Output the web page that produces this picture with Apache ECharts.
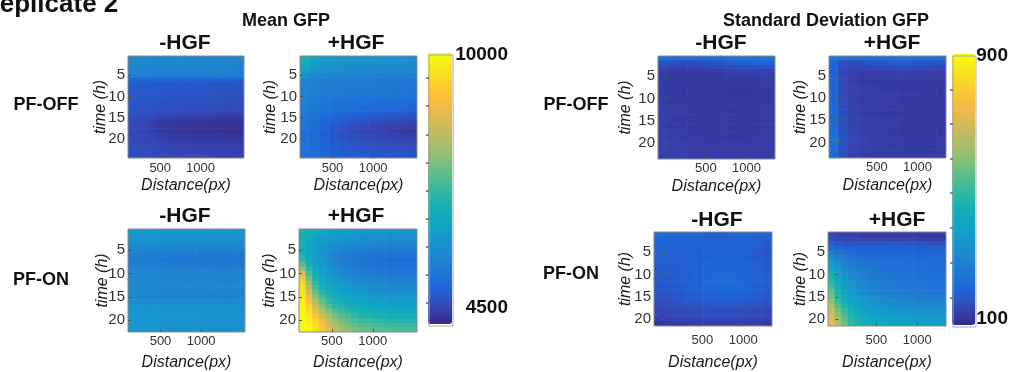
<!DOCTYPE html>
<html>
<head>
<meta charset="utf-8">
<script src="https://cdn.jsdelivr.net/npm/echarts@6/dist/echarts.min.js"></script>
<style>
  html, body { margin: 0; padding: 0; background: #fff; }
  #chart { width: 1013px; height: 372px; }
</style>
</head>
<body>
<div id="chart"></div>
<script>
// ---- Axis data -------------------------------------------------------------
// Distance bin centres (px); the +HGF / PF-ON maps use the finer binning.
const meanDistance = [160, 280, 400, 520, 640, 760, 880, 1000, 1120, 1240, 1360, 1480];
const meanDistanceFine = [140, 220, 300, 380, 460, 540, 620, 700, 780, 860, 940, 1020, 1100, 1180, 1260, 1340, 1420, 1500];
const sdDistance = [-30, 90, 210, 330, 450, 570, 690, 810, 930, 1050, 1170, 1290];
const sdDistanceFine = [-50, 30, 110, 190, 270, 350, 430, 510, 590, 670, 750, 830, 910, 990, 1070, 1150, 1230, 1310];
const timeTicks = [5, 10, 15, 20];
const distanceTicks = [500, 1000];
const meanRange = [4500, 10000];
const sdRange = [100, 900];
const meanBarTicks = [4970, 5540, 6110, 6680, 7250, 7820, 8390, 8960, 9530];
const sdBarTicks = [186, 289, 392, 495, 598, 700, 800];

// ---- Mean GFP (rows = time in h, columns = distance bins) -------------------
const meanOffMinus = [
  [5960,5940,5920,5920,5900,5890,5880,5870,5860,5850,5840,5830],
  [5940,5920,5900,5890,5880,5870,5860,5850,5840,5830,5820,5810],
  [5920,5900,5880,5870,5860,5850,5840,5830,5820,5810,5800,5790],
  [5880,5860,5840,5830,5820,5810,5800,5790,5780,5770,5760,5750],
  [5780,5760,5740,5730,5720,5710,5700,5690,5680,5670,5660,5650],
  [5300,5280,5260,5250,5240,5230,5220,5210,5200,5190,5180,5180],
  [5120,5100,5090,5080,5070,5060,5050,5050,5040,5030,5020,5020],
  [5100,5080,5070,5060,5050,5040,5030,5020,5020,5010,5000,5000],
  [5090,5070,5060,5050,5040,5030,5020,5010,5000,4990,4980,4980],
  [5080,5060,5050,5040,5030,5020,5010,5000,4990,4980,4970,4960],
  [5060,5040,5020,5010,5000,4990,4980,4970,4960,4950,4940,4930],
  [5040,5020,5000,4990,4980,4970,4960,4950,4940,4930,4920,4910],
  [5020,5000,4980,4960,4950,4940,4920,4910,4900,4890,4880,4870],
  [5000,4980,4950,4920,4900,4880,4860,4850,4840,4830,4820,4810],
  [4950,4900,4850,4800,4770,4750,4740,4730,4720,4710,4700,4700],
  [4920,4860,4790,4720,4690,4670,4660,4650,4640,4630,4620,4610],
  [4900,4840,4770,4700,4670,4650,4640,4630,4620,4610,4600,4590],
  [4890,4830,4770,4710,4680,4660,4650,4640,4630,4620,4610,4600],
  [4890,4840,4790,4740,4710,4690,4680,4670,4660,4650,4640,4630],
  [4900,4860,4810,4770,4750,4730,4720,4710,4700,4690,4680,4670],
  [4920,4880,4840,4800,4780,4770,4760,4750,4740,4730,4720,4710],
  [4930,4900,4860,4830,4810,4800,4790,4780,4770,4760,4750,4740],
  [4950,4920,4890,4860,4840,4830,4820,4810,4800,4790,4780,4770],
  [4970,4940,4910,4880,4870,4860,4850,4840,4830,4820,4810,4800]
];
const meanOffPlus = [
  [6900,6550,6300,6200,6150,6120,6100,6090,6080,6070,6060,6050],
  [6800,6450,6250,6160,6120,6090,6070,6060,6050,6040,6030,6020],
  [6600,6350,6180,6100,6060,6030,6010,6000,5990,5980,5970,5960],
  [6400,6200,6080,6010,5970,5950,5930,5920,5910,5900,5890,5880],
  [6150,6050,5960,5900,5870,5850,5830,5820,5810,5800,5790,5780],
  [5900,5820,5750,5710,5680,5660,5650,5640,5630,5620,5610,5600],
  [5850,5770,5700,5660,5630,5610,5600,5590,5580,5570,5560,5550],
  [5830,5750,5680,5640,5610,5590,5570,5560,5550,5540,5530,5520],
  [5800,5720,5650,5610,5580,5560,5540,5530,5510,5500,5490,5480],
  [5770,5690,5620,5570,5540,5520,5500,5480,5470,5460,5450,5440],
  [5740,5650,5570,5520,5490,5460,5440,5420,5410,5400,5390,5380],
  [5700,5600,5520,5460,5420,5390,5370,5350,5340,5330,5320,5310],
  [5650,5550,5460,5400,5350,5320,5290,5270,5250,5230,5210,5200],
  [5600,5490,5390,5320,5270,5230,5200,5170,5150,5120,5100,5080],
  [5550,5430,5320,5240,5180,5130,5090,5060,5030,5000,4970,4950],
  [5500,5370,5250,5160,5090,5030,4980,4940,4900,4870,4840,4820],
  [5460,5320,5190,5090,5010,4950,4900,4860,4820,4780,4750,4730],
  [5430,5290,5160,5060,4980,4920,4870,4830,4790,4750,4720,4700],
  [5420,5280,5160,5060,4990,4930,4890,4850,4810,4780,4750,4740],
  [5420,5290,5170,5080,5010,4960,4920,4890,4860,4830,4810,4800],
  [5430,5300,5190,5110,5050,5000,4960,4930,4910,4890,4870,4860],
  [5450,5330,5220,5140,5080,5040,5010,4980,4960,4940,4920,4910],
  [5470,5350,5250,5170,5120,5080,5050,5030,5010,4990,4980,4970],
  [5490,5380,5280,5200,5150,5110,5090,5070,5050,5040,5030,5020]
];
const meanOnMinus = [
  [6250,6230,6200,6180,6170,6160,6150,6150,6140,6140,6130,6130],
  [6200,6180,6160,6140,6130,6120,6110,6110,6100,6100,6090,6090],
  [6150,6130,6110,6090,6080,6070,6060,6050,6050,6040,6040,6030],
  [6000,5980,5960,5940,5930,5920,5910,5900,5890,5880,5870,5870],
  [5900,5880,5860,5840,5820,5810,5800,5790,5780,5770,5760,5760],
  [5720,5700,5670,5650,5630,5620,5610,5600,5590,5580,5570,5560],
  [5650,5630,5600,5580,5560,5550,5540,5530,5520,5510,5500,5490],
  [5700,5680,5650,5630,5610,5600,5590,5580,5570,5560,5550,5550],
  [5850,5830,5800,5780,5760,5750,5740,5730,5720,5710,5700,5700],
  [5920,5900,5880,5860,5840,5830,5820,5810,5800,5790,5780,5780],
  [5950,5930,5910,5890,5880,5870,5860,5850,5840,5830,5820,5820],
  [5980,5960,5940,5920,5910,5900,5890,5880,5870,5860,5850,5850],
  [6000,5980,5960,5940,5930,5920,5910,5900,5890,5880,5870,5870],
  [5950,5930,5910,5890,5880,5870,5860,5850,5840,5830,5820,5820],
  [5900,5880,5860,5840,5830,5820,5810,5800,5790,5780,5770,5770],
  [6050,6030,6010,5990,5980,5970,5960,5950,5940,5930,5920,5920],
  [6150,6130,6110,6090,6080,6070,6060,6050,6040,6030,6020,6020],
  [6200,6180,6160,6140,6130,6120,6110,6100,6090,6080,6070,6070],
  [6220,6200,6180,6160,6150,6140,6130,6120,6110,6100,6090,6090],
  [6200,6180,6160,6140,6130,6120,6110,6100,6090,6080,6070,6070],
  [6180,6160,6140,6120,6110,6100,6090,6080,6070,6060,6050,6050],
  [6150,6130,6110,6090,6080,6070,6060,6050,6040,6030,6020,6020]
];
const meanOnPlus = [
  [6980,6810,6650,6540,6430,6370,6320,6320,6260,6260,6210,6210,6210,6210,6150,6150,6150,6150],
  [6870,6700,6540,6430,6320,6260,6210,6210,6150,6150,6150,6100,6100,6100,6100,6040,6040,6040],
  [6810,6590,6430,6320,6210,6150,6100,6040,6040,5990,5990,5990,5990,5990,5930,5930,5930,5930],
  [6810,6540,6370,6210,6100,6040,5990,5930,5880,5880,5820,5820,5820,5820,5770,5770,5770,5770],
  [6870,6540,6320,6150,6040,5930,5820,5770,5710,5710,5660,5660,5600,5600,5600,5600,5600,5600],
  [6980,6590,6320,6100,5930,5820,5710,5660,5600,5550,5490,5490,5440,5440,5440,5440,5440,5440],
  [7140,6700,6370,6150,5990,5820,5710,5600,5550,5490,5440,5380,5380,5330,5330,5330,5330,5330],
  [7470,6870,6480,6210,6040,5880,5770,5660,5600,5550,5490,5440,5440,5380,5380,5380,5380,5380],
  [7970,7090,6590,6320,6150,5990,5880,5770,5660,5600,5550,5550,5490,5490,5490,5490,5490,5490],
  [8570,7360,6760,6480,6260,6100,5990,5880,5770,5710,5660,5660,5600,5600,5600,5600,5600,5600],
  [9120,7640,6920,6590,6370,6210,6100,5990,5880,5820,5770,5770,5710,5710,5710,5710,5710,5710],
  [9450,7970,7140,6760,6540,6370,6260,6150,6040,5990,5930,5880,5880,5820,5820,5820,5820,5820],
  [9620,8300,7360,6920,6650,6480,6370,6260,6150,6100,6040,5990,5990,5930,5930,5930,5930,5930],
  [9730,8630,7640,7140,6810,6650,6480,6370,6260,6210,6150,6100,6100,6040,6040,6040,6040,6040],
  [9780,8900,7910,7360,7030,6810,6650,6540,6430,6370,6320,6260,6210,6210,6210,6210,6210,6210],
  [9840,9120,8190,7580,7200,6980,6810,6650,6540,6480,6430,6370,6370,6320,6320,6320,6320,6320],
  [9890,9340,8520,7860,7420,7140,6980,6810,6700,6650,6590,6540,6480,6480,6480,6430,6430,6430],
  [9950,9560,8900,8240,7800,7470,7250,7090,6980,6870,6810,6760,6700,6700,6650,6650,6590,6590],
  [9950,9730,9180,8520,8080,7690,7470,7310,7140,7030,6980,6920,6870,6870,6810,6810,6760,6760],
  [10000,9840,9400,8850,8350,7970,7690,7530,7360,7250,7200,7140,7090,7030,7030,6980,6980,6980],
  [10000,9890,9560,9070,8570,8190,7910,7750,7580,7470,7420,7360,7310,7250,7250,7200,7200,7200],
  [10000,9890,9560,9180,8740,8350,8080,7910,7750,7640,7580,7530,7470,7420,7420,7360,7360,7360]
];

// ---- Standard deviation GFP -----------------------------------------------
const sdOffMinus = [
  [230,228,226,226,226,228,230,232,234,236,238,240],
  [180,170,164,164,168,172,180,188,196,200,204,206],
  [150,144,140,140,144,148,154,160,164,168,170,170],
  [140,134,130,130,132,134,136,138,140,142,142,142],
  [136,132,128,128,130,130,132,134,136,136,136,136],
  [134,130,128,126,128,128,130,130,132,132,132,134],
  [134,130,126,126,126,128,128,130,128,128,130,132],
  [132,130,128,128,128,128,126,126,124,126,128,130],
  [134,130,128,128,126,126,126,124,124,126,128,130],
  [134,132,130,128,128,128,130,130,128,128,130,130],
  [136,132,130,128,128,128,128,128,128,128,128,130],
  [136,132,130,130,130,128,128,128,128,128,130,132],
  [136,134,132,130,130,130,130,130,130,130,130,132],
  [138,134,132,132,132,132,132,132,132,132,132,132],
  [136,132,130,130,130,130,130,130,130,130,130,130],
  [136,132,130,130,130,130,130,130,130,130,132,132],
  [138,134,132,130,130,130,130,130,130,130,130,130],
  [140,136,134,132,130,130,130,130,130,130,132,132],
  [142,138,134,132,132,132,130,130,130,132,132,132],
  [142,138,136,134,132,132,132,132,132,132,132,132],
  [144,140,136,134,134,132,132,132,132,132,134,134],
  [144,140,138,136,134,134,134,134,134,134,134,134],
  [146,142,138,136,136,136,136,136,136,136,136,136]
];
const sdOffPlus = [
  [240,236,234,232,232,234,236,238,236,234,232,230],
  [210,170,164,168,176,182,186,188,186,182,176,170],
  [200,160,150,150,154,158,162,164,162,158,154,150],
  [196,150,138,136,138,140,142,142,142,140,138,136],
  [200,148,136,132,132,134,134,134,134,132,132,132],
  [204,150,136,130,130,130,132,132,132,130,130,130],
  [206,152,140,136,134,130,128,128,128,128,128,128],
  [208,154,142,140,136,132,130,130,128,128,128,128],
  [210,156,142,138,138,140,140,140,138,134,130,128],
  [210,156,140,134,134,134,132,130,130,128,128,128],
  [212,156,140,134,132,132,132,130,130,130,128,128],
  [214,158,140,134,132,132,132,132,130,130,128,128],
  [216,158,140,134,132,130,130,130,130,130,128,128],
  [218,160,140,134,132,130,130,130,130,128,128,128],
  [220,162,142,136,134,134,134,132,130,128,128,128],
  [222,162,142,138,138,136,134,132,130,130,128,128],
  [224,164,144,138,136,134,132,130,130,128,128,128],
  [230,168,146,140,136,134,132,130,130,128,128,128],
  [236,170,148,140,136,134,132,130,130,130,128,128],
  [234,170,148,140,136,134,132,132,130,130,130,130],
  [228,166,146,138,136,134,132,132,130,130,130,130],
  [222,164,144,138,136,134,134,132,132,130,130,130],
  [216,160,142,136,134,134,134,132,132,132,132,132]
];
const sdOnMinus = [
  [224,214,206,202,200,198,198,198,200,202,202,200],
  [210,204,200,198,196,196,196,196,198,198,196,194],
  [202,198,196,194,194,194,194,196,196,196,192,186],
  [198,196,194,194,194,194,196,196,196,194,188,180],
  [194,194,192,194,194,196,196,198,196,192,186,178],
  [192,192,192,194,194,196,198,200,198,194,186,180],
  [190,190,192,194,196,198,200,202,200,196,188,182],
  [188,190,192,194,196,200,204,206,202,198,190,184],
  [186,188,190,194,198,202,208,210,206,200,192,186],
  [184,186,190,194,200,206,212,214,210,202,194,188],
  [182,184,188,194,200,208,214,216,212,204,196,190],
  [180,182,188,194,200,208,214,216,212,204,196,190],
  [178,180,186,192,198,204,210,212,208,202,194,188],
  [174,178,184,190,196,202,206,208,204,198,192,186],
  [170,174,180,186,192,196,200,200,198,192,186,180],
  [164,170,176,182,186,190,192,192,190,186,180,174],
  [158,164,170,174,178,180,182,182,180,176,172,166],
  [146,150,154,156,158,160,160,160,158,156,152,148],
  [150,154,158,162,164,166,168,168,166,162,158,154],
  [134,138,142,144,146,148,150,150,148,146,142,138],
  [126,130,134,136,138,140,142,142,140,138,136,132]
];
const sdOnPlus = [
  [148,140,140,140,140,132,132,132,132,132,132,132,132,132,132,132,132,132],
  [164,148,148,148,148,140,140,140,140,140,140,140,140,140,132,132,132,132],
  [196,180,172,172,172,172,172,180,180,180,180,180,172,172,172,164,164,164],
  [228,204,196,196,196,196,196,196,196,196,196,196,196,196,188,188,188,188],
  [276,244,228,220,212,212,212,212,212,212,212,212,212,204,204,204,204,204],
  [316,276,252,236,228,220,220,220,220,220,220,220,220,212,212,212,212,212],
  [348,308,276,252,244,236,228,228,228,228,228,220,220,220,220,212,212,212],
  [380,332,292,268,252,244,236,236,228,228,228,228,228,220,220,220,220,220],
  [412,356,316,284,268,260,252,244,236,236,236,228,228,228,228,220,220,220],
  [444,380,332,308,284,276,260,252,244,244,236,236,236,228,228,228,228,228],
  [468,396,348,324,300,284,268,260,252,252,244,244,236,236,236,228,228,228],
  [492,420,364,340,316,300,284,268,260,260,252,252,244,244,244,236,236,236],
  [516,436,380,348,324,308,292,284,276,268,260,260,252,252,252,244,244,244],
  [548,460,396,364,340,324,308,292,284,276,268,268,260,260,260,252,252,252],
  [580,476,420,380,356,340,324,308,300,292,284,276,276,268,268,268,268,268],
  [604,500,436,396,372,356,340,324,316,308,300,292,292,284,284,284,284,284],
  [636,532,460,420,388,372,356,340,332,324,316,316,308,308,308,308,308,308],
  [668,564,492,444,412,388,372,364,356,348,340,340,332,332,332,332,332,332],
  [692,596,516,460,428,404,388,380,372,364,364,356,356,348,348,348,348,348],
  [716,620,540,476,444,420,404,396,388,380,372,372,364,364,364,364,364,364],
  [732,636,556,492,460,436,420,404,396,388,380,380,372,372,372,372,372,372]
];

// Parula-style colour ramp (slightly softened blues)
const parula = ['#352a87','#3545b5','#1e64d6','#1e76d4','#1f86d0','#1497cc','#0fa6c3','#19b0b2',
  '#38b99e','#65be86','#92bf73','#b7bd64','#d9ba56','#f8bb44','#fcce2e','#f5e41d','#f9fb0e'];

// ---- Layout ----------------------------------------------------------------
const FONT = '"Liberation Sans", Arial, Helvetica, sans-serif';
const panels = [
  { rows: meanOffMinus, dist: meanDistance,     box: [128, 56, 116, 102], xLabelGap: 4, xNameGap: 20, yNameGap: 19 },
  { rows: meanOffPlus,  dist: meanDistance,     box: [300, 56, 117, 102], xLabelGap: 4, xNameGap: 20, yNameGap: 21 },
  { rows: meanOnMinus,  dist: meanDistance,     box: [128, 229, 117, 103], xLabelGap: 3, xNameGap: 23, yNameGap: 17 },
  { rows: meanOnPlus,   dist: meanDistanceFine, box: [299, 229, 118, 103], xLabelGap: 3, xNameGap: 23, yNameGap: 21 },
  { rows: sdOffMinus,   dist: sdDistance,       box: [658, 56, 117, 103], xLabelGap: 3, xNameGap: 20, yNameGap: 24 },
  { rows: sdOffPlus,    dist: sdDistance,       box: [829, 56, 117, 102], xLabelGap: 3, xNameGap: 20, yNameGap: 20 },
  { rows: sdOnMinus,    dist: sdDistance,       box: [654, 232, 118, 94], xLabelGap: 8, xNameGap: 29, yNameGap: 20 },
  { rows: sdOnPlus,     dist: sdDistanceFine,   box: [828, 232, 118, 94], xLabelGap: 8, xNameGap: 29, yNameGap: 19 }
];
const colorBars = [
  { box: [429, 55, 24, 271], range: meanRange, ticks: meanBarTicks },
  { box: [953, 56, 23, 271], range: sdRange, ticks: sdBarTicks }
];
// The continuous visualMap draws its bar inset from the component origin.
const barInset = [16, 17];

const grids = [], xAxes = [], yAxes = [], series = [];
const nameStyle = { fontFamily: FONT, fontStyle: 'italic', fontSize: 16, color: '#1a1a1a' };

panels.forEach((p, i) => {
  const bin = p.dist[1] - p.dist[0];
  grids.push({ left: p.box[0], top: p.box[1], width: p.box[2], height: p.box[3],
    show: true, borderColor: '#8a8a8a', borderWidth: 1, backgroundColor: 'transparent', z: 10 });
  xAxes.push({
    gridIndex: i, type: 'value', z: 10,
    min: p.dist[0] - bin / 2, max: p.dist[p.dist.length - 1] + bin / 2,
    name: 'Distance(px)', nameLocation: 'middle', nameGap: p.xNameGap, nameMoveOverlap: false,
    nameTextStyle: nameStyle,
    axisLine: { show: false }, splitLine: { show: false },
    axisTick: { show: true, inside: true, length: 3, customValues: distanceTicks, lineStyle: { color: '#555' } },
    axisLabel: { customValues: distanceTicks, margin: p.xLabelGap, fontFamily: FONT, fontSize: 13, color: '#333',
      formatter: v => String(v) }
  });
  yAxes.push({
    gridIndex: i, type: 'value', inverse: true, z: 10,
    min: 0.5, max: p.rows.length + 0.5,
    name: 'time (h)', nameLocation: 'middle', nameGap: p.yNameGap, nameRotate: 90, nameMoveOverlap: false,
    nameTextStyle: nameStyle,
    axisLine: { show: false }, splitLine: { show: false },
    axisTick: { show: true, inside: true, length: 3, customValues: timeTicks, lineStyle: { color: '#555' } },
    axisLabel: { customValues: timeTicks, margin: 3, fontFamily: FONT, fontSize: 15, color: '#333',
      formatter: v => String(v) }
  });
  const data = [];
  p.rows.forEach((row, r) => row.forEach((v, c) => data.push([p.dist[c], r + 1, v])));
  series.push({
    type: 'custom', xAxisIndex: i, yAxisIndex: i, clip: true, silent: true,
    encode: { x: 0, y: 1 },
    data,
    renderItem: (params, api) => {
      const x = api.value(0), y = api.value(1);
      const a = api.coord([x - bin / 2, y - 0.5]);
      const b = api.coord([x + bin / 2, y + 0.5]);
      return {
        type: 'rect',
        shape: { x: Math.min(a[0], b[0]), y: Math.min(a[1], b[1]),
          width: Math.abs(b[0] - a[0]) + 0.6, height: Math.abs(b[1] - a[1]) + 0.6 },
        style: { fill: api.visual('color') }
      };
    }
  });
});

// Frames and tick marks of the two colour bars
colorBars.forEach((cb, k) => {
  const gi = panels.length + k;
  grids.push({ left: cb.box[0], top: cb.box[1], width: cb.box[2], height: cb.box[3],
    show: true, borderColor: '#a8a8a8', borderWidth: 1, backgroundColor: 'transparent', z: 10 });
  xAxes.push({ gridIndex: gi, type: 'value', show: false, min: 0, max: 1 });
  yAxes.push({ gridIndex: gi, type: 'value', position: 'right', z: 10,
    min: cb.range[0], max: cb.range[1],
    axisLine: { show: false }, splitLine: { show: false }, axisLabel: { show: false },
    axisTick: { show: true, inside: true, length: 3, customValues: cb.ticks, lineStyle: { color: '#666', width: 1.5 } } });
});

const textItems = [
  { text: 'Replicate 2', x: -19, y: 4.5, size: 26, align: 'left' },
  { text: 'Mean GFP', x: 286, y: 21, size: 18 },
  { text: 'Standard Deviation GFP', x: 826, y: 21, size: 18 },
  { text: '-HGF', x: 185, y: 43, size: 21 },
  { text: '+HGF', x: 356, y: 43, size: 21 },
  { text: '-HGF', x: 185, y: 216, size: 21 },
  { text: '+HGF', x: 356, y: 216, size: 21 },
  { text: '-HGF', x: 721, y: 43, size: 21 },
  { text: '+HGF', x: 892, y: 43, size: 21 },
  { text: '-HGF', x: 717, y: 220, size: 21 },
  { text: '+HGF', x: 897, y: 220, size: 21 },
  { text: 'PF-OFF', x: 46, y: 105, size: 18 },
  { text: 'PF-ON', x: 41, y: 280, size: 18 },
  { text: 'PF-OFF', x: 576, y: 105, size: 18 },
  { text: 'PF-ON', x: 571, y: 274, size: 18 },
  { text: '10000', x: 508, y: 55, size: 19, align: 'right' },
  { text: '4500', x: 508, y: 308, size: 19, align: 'right' },
  { text: '900', x: 1008, y: 56, size: 19, align: 'right' },
  { text: '100', x: 1008, y: 319, size: 19, align: 'right' }
];

const chart = echarts.init(document.getElementById('chart'), null, { renderer: 'canvas' });
chart.setOption({
  animation: false,
  backgroundColor: '#fff',
  grid: grids,
  xAxis: xAxes,
  yAxis: yAxes,
  visualMap: colorBars.map((cb, k) => ({
    type: 'continuous', seriesIndex: k === 0 ? [0, 1, 2, 3] : [4, 5, 6, 7], dimension: 2,
    min: cb.range[0], max: cb.range[1], calculable: false, hoverLink: false,
    orient: 'vertical', left: cb.box[0] - barInset[0], top: cb.box[1] - barInset[1],
    itemWidth: cb.box[2], itemHeight: cb.box[3], text: null,
    inRange: { color: parula }
  })),
  graphic: textItems.map(t => ({
    type: 'text', x: t.x, y: t.y, silent: true, z: 20,
    style: {
      text: t.text, fill: '#111',
      font: 'bold ' + t.size + 'px ' + FONT,
      align: t.align || 'center', textAlign: t.align || 'center',
      verticalAlign: 'middle', textVerticalAlign: 'middle'
    }
  })),
  series
});
</script>
</body>
</html>
